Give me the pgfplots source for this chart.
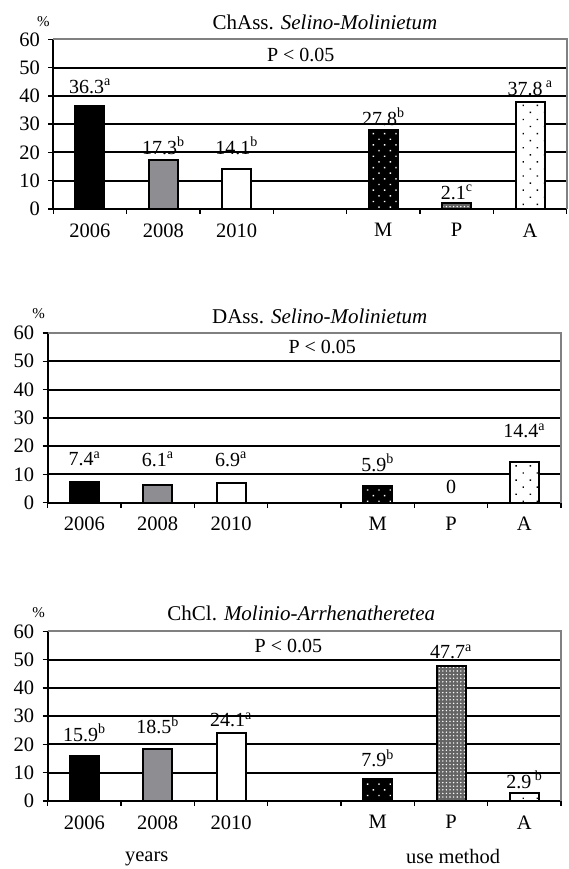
\documentclass[border=0pt]{standalone}
\usepackage{fontspec}
\setmainfont{Liberation Serif}
\usepackage{pgfplots}
\pgfplotsset{compat=1.18}
\usetikzlibrary{patterns.meta}
\definecolor{midgray}{RGB}{142,142,146}
\definecolor{framegray}{RGB}{128,128,128}
\definecolor{pgray}{RGB}{100,100,100}
\newcommand{\tf}{\fontsize{20.5}{24}\selectfont}
\newcommand{\hf}{\fontsize{21}{25}\selectfont}
\newcommand{\vf}{\fontsize{20}{24}\selectfont}
\pgfplotsset{
  panel/.style={
    scale only axis, height=169.7pt,
    xmin=0, xmax=7, ymin=0, ymax=60,
    axis x line*=bottom, axis y line*=left,
    axis line style={-, black, line width=2pt},
    xtick={0,1,...,7}, x tick label as interval,
    xticklabels={2006,2008,2010,,M,P,A},
    ytick={0,10,...,60},
    tick align=outside, major tick length=5pt,
    tick style={black, line width=1.5pt},
    ymajorgrids, major grid style={black, line width=2pt},
    /pgf/number format/assume math mode=true,
    tick label style={font=\tf},
    yticklabel style={xshift=-5pt},
    xticklabel style={yshift=-6pt},
    clip=false,
    after end axis/.code={\draw[framegray, line width=2pt] (rel axis cs:0,1) -- (rel axis cs:1,1) -- (rel axis cs:1,0);},
  },
  bb/.style={ybar, bar width=29pt, bar shift=0pt, draw=black, line width=2pt},
  lab/.style={nodes near coords, point meta=explicit symbolic,
    every node near coord/.append style={anchor=base, yshift=#1, font=\vf, text=black, inner sep=0pt}},
  y2006/.style={fill=black},
  y2008/.style={fill=midgray},
  y2010/.style={fill=white},
  mM/.style={fill=black, postaction={pattern={Dots[distance=8pt, angle=45, radius=1pt]}, pattern color=white}},
  mP/.style={fill=pgray, postaction={pattern={Dots[distance=3.6pt, radius=0.8pt]}, pattern color=white}},
  mA/.style={fill=white, postaction={pattern={Dots[distance=10pt, angle=45, radius=1pt]}, pattern color=black}},
}
\begin{document}
\begin{tikzpicture}
\useasboundingbox (0,0) rectangle (568pt,869pt);
% ---------- panel 1 ----------
\begin{axis}[panel, width=513.4pt, at={(53.3pt,660pt)}, anchor=south west]
\addplot[bb, y2006, lab=13pt] coordinates {(0.5,36.3) [36.3\textsuperscript{a}]};
\addplot[bb, y2008, lab=6pt] coordinates {(1.5,17.3) [17.3\textsuperscript{b}]};
\addplot[bb, y2010, lab=15pt] coordinates {(2.5,14.1) [14.1\textsuperscript{b}]};
\addplot[bb, mM, lab=5pt] coordinates {(4.5,27.8) [27.8\textsuperscript{b}]};
\addplot[bb, mP, lab=4pt] coordinates {(5.5,2.1) [2.1\textsuperscript{c}]};
\addplot[bb, mA, lab=7pt] coordinates {(6.5,37.8) [37.8\,\textsuperscript{a}]};
\node[font=\fontsize{15}{17}\selectfont, xshift=-10pt, yshift=18pt] at (rel axis cs:0,1) {\%};
\node[font=\hf, anchor=base, yshift=10pt] at (rel axis cs:0.529,1) {ChAss. \textit{Selino-Molinietum}};
\node[font=\vf, anchor=base] at (axis cs:3.374,52) {P < 0.05};
\end{axis}
% ---------- panel 2 ----------
\begin{axis}[panel, width=513.3pt, at={(47.7pt,366.3pt)}, anchor=south west]
\addplot[bb, y2006, lab=16pt] coordinates {(0.5,7.4) [7.4\textsuperscript{a}]};
\addplot[bb, y2008, lab=19pt] coordinates {(1.5,6.1) [6.1\textsuperscript{a}]};
\addplot[bb, y2010, lab=17pt] coordinates {(2.5,6.9) [6.9\textsuperscript{a}]};
\addplot[bb, mM, lab=15pt] coordinates {(4.5,5.9) [5.9\textsuperscript{b}]};
\addplot[bb, mP, lab=9pt] coordinates {(5.5,0) [0]};
\addplot[bb, mA, lab=24pt] coordinates {(6.5,14.4) [14.4\textsuperscript{a}]};
\node[font=\fontsize{15}{17}\selectfont, xshift=-9pt, yshift=19pt] at (rel axis cs:0,1) {\%};
\node[font=\hf, anchor=base, yshift=9.5pt] at (rel axis cs:0.530,1) {DAss. \textit{Selino-Molinietum}};
\node[font=\vf, anchor=base] at (axis cs:3.745,52.9) {P < 0.05};
\end{axis}
% ---------- panel 3 ----------
\begin{axis}[panel, width=513.3pt, at={(47.7pt,68pt)}, anchor=south west]
\addplot[bb, y2006, lab=15pt] coordinates {(0.5,15.9) [15.9\textsuperscript{b}]};
\addplot[bb, y2008, lab=15pt] coordinates {(1.5,18.5) [18.5\textsuperscript{b}]};
\addplot[bb, y2010, lab=6pt] coordinates {(2.5,24.1) [24.1\textsuperscript{a}]};
\addplot[bb, mM, lab=12pt] coordinates {(4.5,7.9) [7.9\textsuperscript{b}]};
\addplot[bb, mP, lab=7.5pt] coordinates {(5.5,47.7) [47.7\textsuperscript{a}]};
\addplot[bb, mA, lab=4.5pt] coordinates {(6.5,2.9) [2.9\,\textsuperscript{b}]};
\node[font=\fontsize{15}{17}\selectfont, xshift=-9pt, yshift=19pt] at (rel axis cs:0,1) {\%};
\node[font=\hf, anchor=base, yshift=11pt] at (rel axis cs:0.494,1) {ChCl. \textit{Molinio-Arrhenatheretea}};
\node[font=\vf, anchor=base] at (axis cs:3.283,52.4) {P < 0.05};
\node[font=\tf, anchor=base, yshift=-60pt] at (axis cs:1.351,0) {years};
\node[font=\tf, anchor=base, yshift=-62pt] at (axis cs:5.53,0) {use method};
\end{axis}
\end{tikzpicture}
\end{document}
